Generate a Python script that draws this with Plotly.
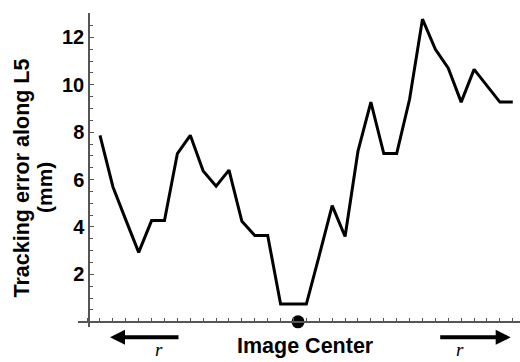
import plotly.graph_objects as go

# ---- data ----
sample_index = list(range(33))
tracking_error = [7.87, 5.7, 4.3, 2.93, 4.27, 4.27, 7.1, 7.87, 6.36, 5.72, 6.4,
                  4.24, 3.64, 3.64, 0.75, 0.75, 0.75, 2.8, 4.9, 3.6, 7.2, 9.27,
                  7.1, 7.1, 9.39, 12.77, 11.5, 10.7, 9.27, 10.65, 9.95, 9.27, 9.27]
center_position = [15.35]
center_value = [0]
y_tick_vals = [2, 4, 6, 8, 10, 12]
y_tick_text = ["2", "4", "6", "8", "10", "12"]

W, H = 520, 362
L, R, T, B = 78, 520, 13, 327   # plot area in pixels


def px(xp):
    return (xp - L) / (R - L)


def py(yp):
    return (B - yp) / (B - T)


FONT = "Liberation Sans"
AX_COLOR = "#555555"

fig = go.Figure()
fig.add_trace(go.Scatter(x=sample_index, y=tracking_error, mode="lines",
                         line=dict(color="black", width=3), hoverinfo="skip"))
fig.add_trace(go.Scatter(x=center_position, y=center_value, mode="markers",
                         marker=dict(color="black", size=13), cliponaxis=False,
                         hoverinfo="skip"))

fig.update_layout(
    width=W, height=H,
    margin=dict(l=L, r=W - R, t=T, b=H - B),
    paper_bgcolor="white", plot_bgcolor="white",
    showlegend=False,
    xaxis=dict(range=[-1.705, 32.56], anchor="free", position=py(321.7),
               showline=True, linecolor=AX_COLOR, linewidth=1.5,
               showgrid=False, zeroline=False, showticklabels=False,
               tickmode="linear", tick0=0, dtick=1,
               ticks="inside", ticklen=3, tickcolor=AX_COLOR, tickwidth=1),
    yaxis=dict(range=[-0.22, 13.03], anchor="free", position=px(89),
               showline=True, linecolor=AX_COLOR, linewidth=1.5,
               showgrid=False, zeroline=False,
               tickmode="array", tickvals=y_tick_vals, ticktext=y_tick_text,
               ticks="inside", ticklen=4, tickcolor=AX_COLOR, tickwidth=1,
               tickfont=dict(family=FONT, size=20, color="black", weight="bold"),
               minor=dict(dtick=0.5, tick0=0, ticks="inside", ticklen=3,
                          tickcolor=AX_COLOR, tickwidth=1)),
)

ann = []
ann.append(dict(text="Tracking error along L5", x=px(21), y=py(178.5),
                xref="paper", yref="paper", textangle=-90, showarrow=False,
                xanchor="center", yanchor="middle",
                font=dict(family=FONT, size=21.5, color="black", weight="bold")))
ann.append(dict(text="(mm)", x=px(44), y=py(188),
                xref="paper", yref="paper", textangle=-90, showarrow=False,
                xanchor="center", yanchor="middle",
                font=dict(family=FONT, size=21, color="black", weight="bold")))
ann.append(dict(text="Image Center", x=px(305), y=py(346),
                xref="paper", yref="paper", showarrow=False,
                xanchor="center", yanchor="middle",
                font=dict(family=FONT, size=21.5, color="black", weight="bold")))
for cx in (159, 460):
    ann.append(dict(text="r", x=px(cx), y=py(362), xref="paper", yref="paper",
                    showarrow=False, xanchor="center", yanchor="bottom",
                    font=dict(family="Liberation Serif", size=19, color="black",
                              style="italic")))
# arrows
ann.append(dict(text="", x=px(110), y=py(337.3), xref="paper", yref="paper",
                ax=70, ay=0, showarrow=True, arrowhead=2, arrowsize=0.75,
                arrowwidth=4, arrowcolor="black", standoff=0))
ann.append(dict(text="", x=px(510.7), y=py(337.3), xref="paper", yref="paper",
                ax=-72, ay=0, showarrow=True, arrowhead=2, arrowsize=0.75,
                arrowwidth=4, arrowcolor="black", standoff=0))
fig.update_layout(annotations=ann)

fig.write_html("out.html")
